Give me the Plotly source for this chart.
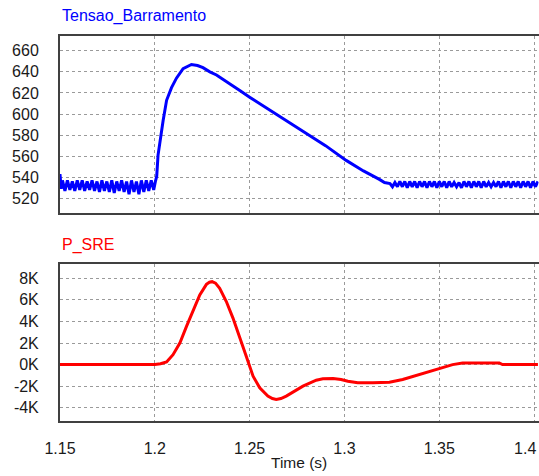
import plotly.graph_objects as go
from plotly.subplots import make_subplots

# ---- data ----
v_time = [1.1500, 1.1506, 1.1513, 1.1526, 1.1539, 1.1552, 1.1565, 1.1578, 1.1591, 1.1604,
          1.1617, 1.1630, 1.1643, 1.1656, 1.1669, 1.1682, 1.1695, 1.1708, 1.1721,
          1.1734, 1.1747, 1.1760, 1.1773, 1.1786, 1.1799, 1.1812, 1.1825, 1.1838,
          1.1851, 1.1864, 1.1877, 1.1890, 1.1903, 1.1916, 1.1929, 1.1942, 1.1955,
          1.1968, 1.1981, 1.1994, 1.2003, 1.2010, 1.2017, 1.2030, 1.2044, 1.2062,
          1.2088, 1.2114, 1.2149, 1.2193, 1.2225, 1.2254, 1.2290, 1.2325, 1.2395,
          1.2450, 1.2500, 1.2605, 1.2700, 1.2781, 1.2900, 1.3009, 1.3100, 1.3184,
          1.3211, 1.3240, 1.3253, 1.3266, 1.3279, 1.3292, 1.3305, 1.3318, 1.3331,
          1.3344, 1.3357, 1.3370, 1.3383, 1.3396, 1.3409, 1.3422, 1.3435, 1.3448,
          1.3461, 1.3474, 1.3487, 1.3500, 1.3513, 1.3526, 1.3539, 1.3552, 1.3565,
          1.3578, 1.3591, 1.3604, 1.3617, 1.3630, 1.3643, 1.3656, 1.3669, 1.3682,
          1.3695, 1.3708, 1.3721, 1.3734, 1.3747, 1.3760, 1.3773, 1.3786, 1.3799,
          1.3812, 1.3825, 1.3838, 1.3851, 1.3864, 1.3877, 1.3890, 1.3903, 1.3916,
          1.3929, 1.3942, 1.3955, 1.3968, 1.3981, 1.3994, 1.4007, 1.4020]
v_bus = [543, 529, 537, 527, 537, 528, 536, 527, 537, 528,
         537, 527, 536, 528, 537, 527, 536, 526, 537,
         527, 536, 526, 537, 525, 536, 527, 537, 526,
         536, 524, 537, 526, 536, 524, 537, 526, 537,
         527, 537, 528, 536, 541, 561, 578, 594, 613,
         625, 634, 643, 647, 646, 644, 640, 637, 629,
         622, 616, 604, 593, 584, 570, 556, 546, 538,
         535, 534, 531, 535, 531, 536, 531, 536, 530,
         536, 531, 536, 530, 536, 531, 536, 530, 536,
         531, 536, 530, 536, 531, 536, 530, 536, 531,
         535, 531, 535, 530, 536, 531, 536, 530, 536,
         531, 536, 530, 536, 531, 535, 531, 535, 531,
         536, 530, 536, 531, 536, 530, 536, 531, 536,
         530, 536, 531, 536, 530, 536, 531, 536]

p_time = [1.1500, 1.2000, 1.2030, 1.2062, 1.2096, 1.2132, 1.2167, 1.2202, 1.2237,
          1.2272, 1.2288, 1.2302, 1.2320, 1.2342, 1.2377, 1.2412, 1.2447, 1.2482,
          1.2518, 1.2553, 1.2596, 1.2620, 1.2640, 1.2665, 1.2693, 1.2740, 1.2781,
          1.2851, 1.2886, 1.2940, 1.2982, 1.3018, 1.3070, 1.3150, 1.3237, 1.3307,
          1.3395, 1.3500, 1.3570, 1.3623, 1.3816, 1.3833, 1.4020]
p_sre = [0, 0, 80, 250, 920, 2000, 3540, 5080, 6460,
         7440, 7640, 7690, 7550, 7080, 5850, 4310, 2620, 770,
         -1080, -2150, -2920, -3150, -3230, -3150, -2920, -2450, -2000,
         -1450, -1320, -1300, -1380, -1540, -1690, -1680, -1630, -1380,
         -920, -370, 0, 150, 150, 0, 0]

x_ticks = [1.15, 1.2, 1.25, 1.3, 1.35, 1.4]
x_tick_text = ["1.15", "1.2", "1.25", "1.3", "1.35", "1.4\u00a0\u00a0\u00a0\u00a0"]
v_ticks = [520, 540, 560, 580, 600, 620, 640, 660]
p_ticks = [-4000, -2000, 0, 2000, 4000, 6000, 8000]
p_tick_text = ["-4K", "-2K", "0K", "2K", "4K", "6K", "8K"]

# ---- figure ----
W, H = 539, 476
fig = make_subplots(rows=2, cols=1, shared_xaxes=False)

fig.add_trace(go.Scatter(x=v_time, y=v_bus, mode="lines",
                         line=dict(color="#0000FF", width=3), name="Tensao_Barramento"),
              row=1, col=1)
fig.add_trace(go.Scatter(x=p_time, y=p_sre, mode="lines",
                         line=dict(color="#FF0000", width=3), name="P_SRE"),
              row=2, col=1)

font_family = "Liberation Sans, Arial, sans-serif"
x0, x1 = 60 / W, 538.5 / W
axis_common = dict(showline=True, mirror=True, linecolor="#404040", linewidth=2,
                   showgrid=True, gridcolor="#9a9a9a", gridwidth=1, griddash="dot",
                   zeroline=False, ticks="", ticklen=0, automargin=False,
                   tickfont=dict(family=font_family, size=16, color="#1a1a1a"))

fig.update_layout(
    width=W, height=H,
    margin=dict(l=0, r=0, t=0, b=0, autoexpand=False),
    paper_bgcolor="white", plot_bgcolor="white",
    showlegend=False,
    font=dict(family=font_family),
    xaxis=dict(domain=[x0, x1], range=[1.15, 1.4023], tickvals=x_ticks,
               ticktext=x_tick_text, showticklabels=False, **axis_common),
    xaxis2=dict(domain=[x0, x1], range=[1.15, 1.4023], tickvals=x_ticks,
                ticktext=x_tick_text, showticklabels=True, ticklabelstandoff=12,
                ticklabeloverflow="allow", **axis_common),
    yaxis=dict(domain=[1 - 213.3 / H, 1 - 36 / H], range=[505.8, 674],
               tickvals=v_ticks, ticklabelstandoff=16, **axis_common),
    yaxis2=dict(domain=[1 - 421 / H, 1 - 264.3 / H], range=[-5230, 9300],
                tickvals=p_ticks, ticktext=p_tick_text, ticklabelstandoff=16,
                **axis_common),
)

fig.add_annotation(text="Tensao_Barramento", xref="paper", yref="paper",
                   x=60 / W, y=1 - 16 / H, xanchor="left", yanchor="middle",
                   showarrow=False, font=dict(family=font_family, size=16, color="#0000FF"))
fig.add_annotation(text="P_SRE", xref="paper", yref="paper",
                   x=60 / W, y=1 - 245 / H, xanchor="left", yanchor="middle",
                   showarrow=False, font=dict(family=font_family, size=16, color="#FF0000"))
fig.add_annotation(text="Time (s)", xref="paper", yref="paper",
                   x=299 / W, y=1 - 462 / H, xanchor="center", yanchor="middle",
                   showarrow=False, font=dict(family=font_family, size=15.5, color="#1a1a1a"))

fig.write_html("out.html")
